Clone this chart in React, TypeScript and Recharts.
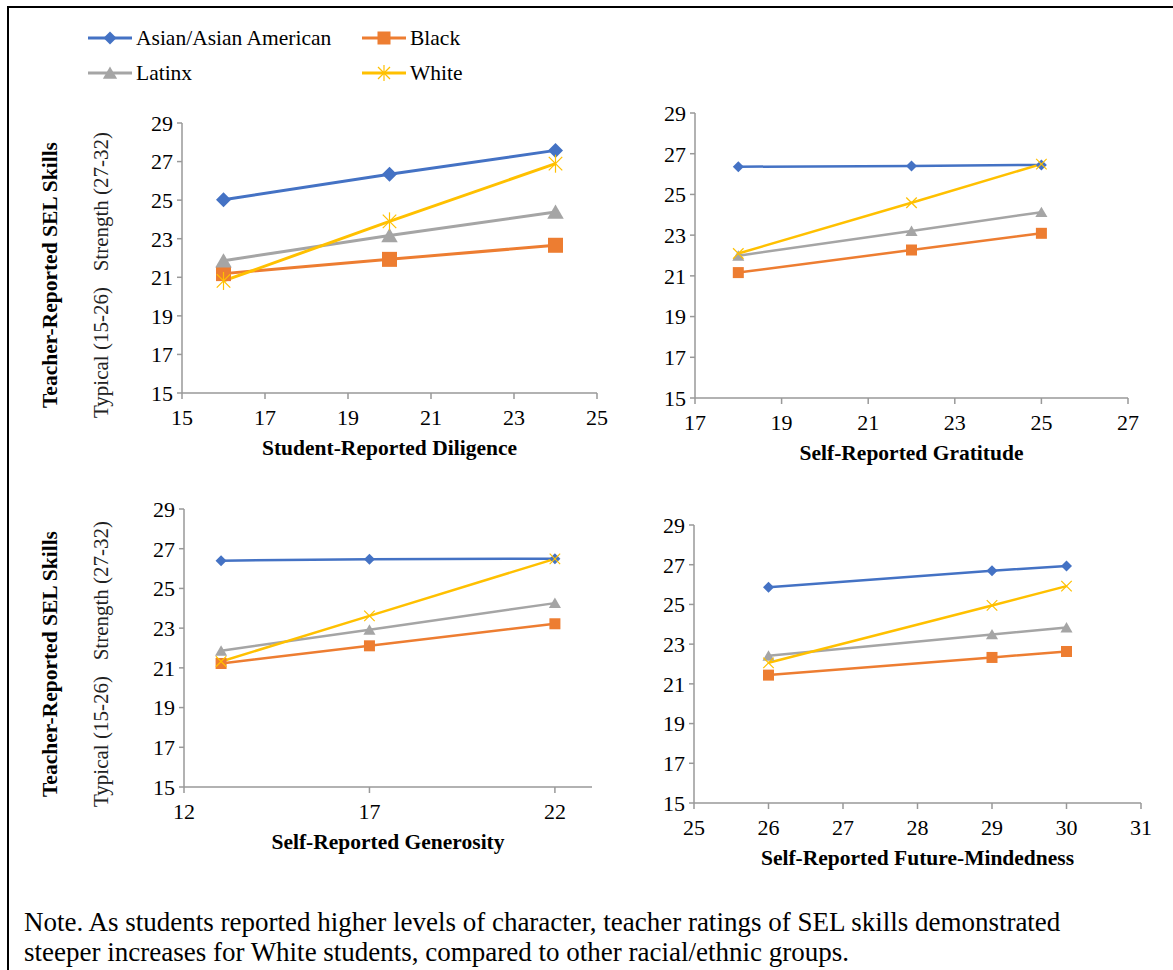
import { Line, LineChart, XAxis, YAxis } from "recharts";

// values (teacher-reported SEL score by group)
const diligenceX = [16, 20, 24];
const diligenceAsian = [25.02, 26.34, 27.58];
const diligenceBlack = [21.19, 21.93, 22.66];
const diligenceLatinx = [21.86, 23.17, 24.38];
const diligenceWhite = [20.81, 23.9, 26.89];

const gratitudeX = [18, 22, 25];
const gratitudeAsian = [26.36, 26.4, 26.45];
const gratitudeBlack = [21.16, 22.27, 23.09];
const gratitudeLatinx = [21.99, 23.2, 24.13];
const gratitudeWhite = [22.1, 24.59, 26.49];

const generosityX = [13, 17, 22];
const generosityAsian = [26.4, 26.47, 26.5];
const generosityBlack = [21.22, 22.11, 23.22];
const generosityLatinx = [21.86, 22.92, 24.26];
const generosityWhite = [21.32, 23.62, 26.49];

const futureX = [26, 29, 30];
const futureAsian = [25.86, 26.7, 26.93];
const futureBlack = [21.44, 22.33, 22.63];
const futureLatinx = [22.41, 23.49, 23.84];
const futureWhite = [22.06, 24.95, 25.92];

const yTicks = [15, 17, 19, 21, 23, 25, 27, 29];
const diligenceTicks = [15, 17, 19, 21, 23, 25];
const gratitudeTicks = [17, 19, 21, 23, 25, 27];
const generosityTicks = [12, 17, 22];
const futureTicks = [25, 26, 27, 28, 29, 30, 31];

const groups = ["Asian/Asian American", "Black", "Latinx", "White"];

const FONT = '"Liberation Serif", "Times New Roman", serif';
const AXIS = "#999999";

type Shape = "diamond" | "square" | "triangle" | "asterisk" | "x";

const seriesStyle = [
  { key: "asian", color: "#4472C4", shape: "diamond" as Shape },
  { key: "black", color: "#ED7D31", shape: "square" as Shape },
  { key: "latinx", color: "#A5A5A5", shape: "triangle" as Shape },
  { key: "white", color: "#FFC000", shape: "asterisk" as Shape },
];

function Marker({ cx, cy, shape, color, s }: { cx: number; cy: number; shape: Shape; color: string; s: number }) {
  if (shape === "diamond")
    return <polygon points={`${cx},${cy - s} ${cx + s},${cy} ${cx},${cy + s} ${cx - s},${cy}`} fill={color} />;
  if (shape === "square") return <rect x={cx - s} y={cy - s} width={s * 2} height={s * 2} fill={color} />;
  if (shape === "triangle")
    return <polygon points={`${cx},${cy - s} ${cx + s * 1.1},${cy + s * 0.9} ${cx - s * 1.1},${cy + s * 0.9}`} fill={color} />;
  const d = s * 0.75;
  return (
    <g stroke={color} strokeWidth={1.2}>
      <line x1={cx - d} y1={cy - d} x2={cx + d} y2={cy + d} />
      <line x1={cx - d} y1={cy + d} x2={cx + d} y2={cy - d} />
      {shape === "asterisk" && <line x1={cx} y1={cy - s} x2={cx} y2={cy + s} />}
    </g>
  );
}

type Rect = { left: number; right: number; top: number; bottom: number };

type PanelProps = {
  rect: Rect;
  xs: number[];
  values: number[][];
  xDomain: [number, number];
  xTicks: number[];
  title: string;
  big?: boolean;
};

function Panel({ rect, xs, values, xDomain, xTicks, title, big }: PanelProps) {
  const yW = 60;
  const mTop = 15;
  const mRight = 25;
  const xH = 40;
  const data = xs.map((x, i) => ({
    x,
    asian: values[0][i],
    black: values[1][i],
    latinx: values[2][i],
    white: values[3][i],
  }));
  const tickStyle = { fill: "#000", fontSize: 22, fontFamily: FONT };
  const size = big ? 7.5 : 5.5;
  return (
    <>
      <div style={{ position: "absolute", left: rect.left - yW, top: rect.top - mTop }}>
        <LineChart
          width={rect.right - rect.left + yW + mRight}
          height={rect.bottom - rect.top + mTop + xH}
          data={data}
          margin={{ top: mTop, right: mRight, left: 0, bottom: 0 }}
        >
          <XAxis
            type="number"
            dataKey="x"
            domain={xDomain}
            ticks={xTicks}
            height={xH}
            stroke={AXIS}
            strokeWidth={1.5}
            tickSize={6}
            tickMargin={10}
            tick={tickStyle}
            allowDataOverflow
          />
          <YAxis
            type="number"
            domain={[15, 29]}
            ticks={yTicks}
            width={yW}
            stroke={AXIS}
            strokeWidth={1.5}
            tickSize={5}
            tickMargin={4}
            tick={tickStyle}
            allowDataOverflow
          />
          {seriesStyle.map((st) => {
            const shape: Shape = st.shape === "asterisk" && !big ? "x" : st.shape;
            return (
              <Line
                key={st.key}
                dataKey={st.key}
                stroke={st.color}
                strokeWidth={big ? 3 : 2.5}
                isAnimationActive={false}
                activeDot={false}
                dot={(p: any) => (
                  <Marker
                    key={`${st.key}-${p.index}`}
                    cx={p.cx}
                    cy={p.cy}
                    shape={shape}
                    color={st.color}
                    s={shape === "asterisk" || shape === "x" ? size + 1.5 : size}
                  />
                )}
              />
            );
          })}
        </LineChart>
      </div>
      <div
        style={{
          position: "absolute",
          left: (rect.left + rect.right) / 2 - 250,
          width: 500,
          top: rect.bottom + 42,
          textAlign: "center",
          fontFamily: FONT,
          fontWeight: "bold",
          fontSize: 21.5,
          lineHeight: "26px",
        }}
      >
        {title}
      </div>
    </>
  );
}

function YTitle({ cy }: { cy: number }) {
  const base: React.CSSProperties = {
    position: "absolute",
    top: cy,
    transform: "translate(-50%, -50%) rotate(-90deg)",
    whiteSpace: "pre",
    fontFamily: FONT,
    lineHeight: "26px",
  };
  return (
    <>
      <div style={{ ...base, left: 50, fontWeight: "bold", fontSize: 21.5 }}>Teacher-Reported SEL Skills</div>
      <div style={{ ...base, left: 101, fontSize: 21, color: "#222" }}>{"Typical (15-26)   Strength (27-32)"}</div>
    </>
  );
}

function LegendItem({ x, y, idx }: { x: number; y: number; idx: number }) {
  const st = seriesStyle[idx];
  return (
    <div style={{ position: "absolute", left: x, top: y - 14, height: 28, display: "flex", alignItems: "center" }}>
      <svg width={46} height={28}>
        <line x1={0} y1={14} x2={44} y2={14} stroke={st.color} strokeWidth={3} />
        <Marker cx={22} cy={14} shape={st.shape} color={st.color} s={st.shape === "asterisk" ? 8 : 6.5} />
      </svg>
      <span style={{ fontFamily: FONT, fontSize: 21.5, marginLeft: 2 }}>{groups[idx]}</span>
    </div>
  );
}

export default function App() {
  return (
    <div style={{ position: "relative", width: 1173, height: 970, background: "#fff", overflow: "hidden" }}>
      <style>{"body{margin:0}"}</style>
      <div style={{ position: "absolute", left: 7, top: 6, width: 1170, height: 970, borderTop: "2px solid #000", borderLeft: "2px solid #000" }} />

      <LegendItem x={88} y={38} idx={0} />
      <LegendItem x={362} y={38} idx={1} />
      <LegendItem x={88} y={73} idx={2} />
      <LegendItem x={362} y={73} idx={3} />

      <Panel
        rect={{ left: 182, right: 597, top: 123, bottom: 393 }}
        xs={diligenceX}
        values={[diligenceAsian, diligenceBlack, diligenceLatinx, diligenceWhite]}
        xDomain={[15, 25]}
        xTicks={diligenceTicks}
        title="Student-Reported Diligence"
        big
      />
      <Panel
        rect={{ left: 695, right: 1128, top: 113, bottom: 398 }}
        xs={gratitudeX}
        values={[gratitudeAsian, gratitudeBlack, gratitudeLatinx, gratitudeWhite]}
        xDomain={[17, 27]}
        xTicks={gratitudeTicks}
        title="Self-Reported Gratitude"
      />
      <Panel
        rect={{ left: 184, right: 592, top: 509, bottom: 787 }}
        xs={generosityX}
        values={[generosityAsian, generosityBlack, generosityLatinx, generosityWhite]}
        xDomain={[12, 23]}
        xTicks={generosityTicks}
        title="Self-Reported Generosity"
      />
      <Panel
        rect={{ left: 694, right: 1141, top: 525, bottom: 803 }}
        xs={futureX}
        values={[futureAsian, futureBlack, futureLatinx, futureWhite]}
        xDomain={[25, 31]}
        xTicks={futureTicks}
        title="Self-Reported Future-Mindedness"
      />

      <YTitle cy={275} />
      <YTitle cy={664} />

      <div style={{ position: "absolute", left: 24, top: 907, fontFamily: FONT, fontSize: 27, lineHeight: "30px", whiteSpace: "nowrap" }}>
        Note. As students reported higher levels of character, teacher ratings of SEL skills demonstrated
        <br />
        steeper increases for White students, compared to other racial/ethnic groups.
      </div>
    </div>
  );
}
